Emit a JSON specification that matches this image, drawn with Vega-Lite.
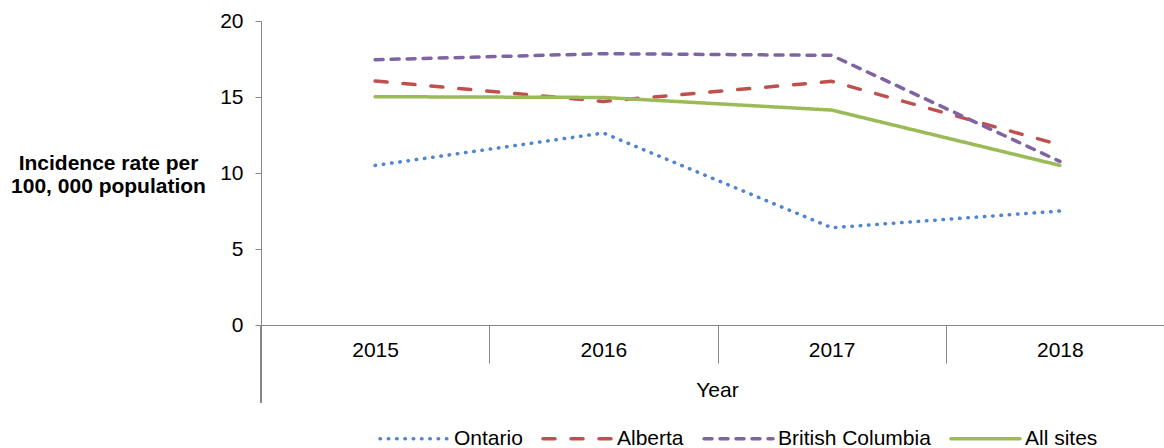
{
  "$schema": "https://vega.github.io/schema/vega-lite/v6.json",
  "autosize": "none",
  "padding": {"left": 261, "top": 21, "right": 0, "bottom": 123},
  "width": 903,
  "height": 304,
  "config": {
    "font": "Liberation Sans",
    "view": {"stroke": null},
    "axis": {"domainColor": "#868686", "tickColor": "#868686", "labelColor": "#000000", "titleColor": "#000000", "grid": false, "labelFontSize": 21, "titleFontSize": 21, "titleFontWeight": "normal"}
  },
  "data": {
    "values": [
      {"Year": "2015", "Site": "Ontario", "Rate": 10.5},
      {"Year": "2016", "Site": "Ontario", "Rate": 12.63},
      {"Year": "2017", "Site": "Ontario", "Rate": 6.4},
      {"Year": "2018", "Site": "Ontario", "Rate": 7.5},
      {"Year": "2015", "Site": "Alberta", "Rate": 16.05},
      {"Year": "2016", "Site": "Alberta", "Rate": 14.71},
      {"Year": "2017", "Site": "Alberta", "Rate": 16.03},
      {"Year": "2018", "Site": "Alberta", "Rate": 11.85},
      {"Year": "2015", "Site": "British Columbia", "Rate": 17.45},
      {"Year": "2016", "Site": "British Columbia", "Rate": 17.85},
      {"Year": "2017", "Site": "British Columbia", "Rate": 17.74},
      {"Year": "2018", "Site": "British Columbia", "Rate": 10.76},
      {"Year": "2015", "Site": "All sites", "Rate": 15.02},
      {"Year": "2016", "Site": "All sites", "Rate": 14.97},
      {"Year": "2017", "Site": "All sites", "Rate": 14.14},
      {"Year": "2018", "Site": "All sites", "Rate": 10.5}
    ]
  },
  "layer": [
    {
      "mark": {"type": "rule", "color": "#868686", "strokeWidth": 1},
      "encoding": {
        "x": {"datum": "2015", "type": "ordinal", "bandPosition": 0},
        "y": {"datum": 0, "type": "quantitative"},
        "y2": {"datum": -5.1}
      }
    },
    {
      "mark": {"type": "line", "strokeWidth": 3.5, "strokeCap": "round", "strokeJoin": "round"},
      "encoding": {
        "x": {
          "field": "Year", "type": "ordinal",
          "scale": {"type": "band", "paddingInner": 0, "paddingOuter": 0, "range": [0, 913]},
          "axis": {"title": "Year", "labelAngle": 0, "labelAlign": "center", "tickBand": "extent", "tickSize": 38, "labelPadding": -13, "labelBaseline": "middle", "titleY": 65, "titleBaseline": "middle", "titleX": 456}
        },
        "y": {
          "field": "Rate", "type": "quantitative",
          "scale": {"domain": [0, 20], "nice": false, "zero": false},
          "axis": {
            "values": [0, 5, 10, 15, 20],
            "tickSize": 6, "labelPadding": 12,
            "title": ["Incidence rate per", "100, 000 population"],
            "titleAngle": 0, "titleFontWeight": "bold", "titleAlign": "center", "titleBaseline": "middle",
            "titleLineHeight": 23, "titleX": -153, "titleY": 142
          }
        },
        "color": {
          "field": "Site", "type": "nominal",
          "scale": {"domain": ["Ontario", "Alberta", "British Columbia", "All sites"], "range": ["#4D85D1", "#C0504D", "#8064A2", "#9BBB59"]},
          "legend": {
            "title": null, "orient": "none", "direction": "horizontal", "legendX": 117, "legendY": 381,
            "symbolType": "stroke", "symbolSize": 4761, "symbolStrokeWidth": 3.5,
            "labelFontSize": 21, "labelOffset": 3, "columnPadding": 13, "padding": 0,
            "encode": {"symbols": {"update": {"strokeCap": {"value": "round"}}}}
          }
        },
        "strokeDash": {
          "field": "Site", "type": "nominal",
          "scale": {"domain": ["Ontario", "Alberta", "British Columbia", "All sites"], "range": [[0.5, 7.8], [12, 16], [8, 8], [1, 0]]},
          "legend": {
            "title": null, "orient": "none", "direction": "horizontal", "legendX": 117, "legendY": 381,
            "symbolType": "stroke", "symbolSize": 4761, "symbolStrokeWidth": 3.5,
            "labelFontSize": 21, "labelOffset": 3, "columnPadding": 13, "padding": 0,
            "encode": {"symbols": {"update": {"strokeCap": {"value": "round"}}}}
          }
        }
      }
    }
  ]
}
